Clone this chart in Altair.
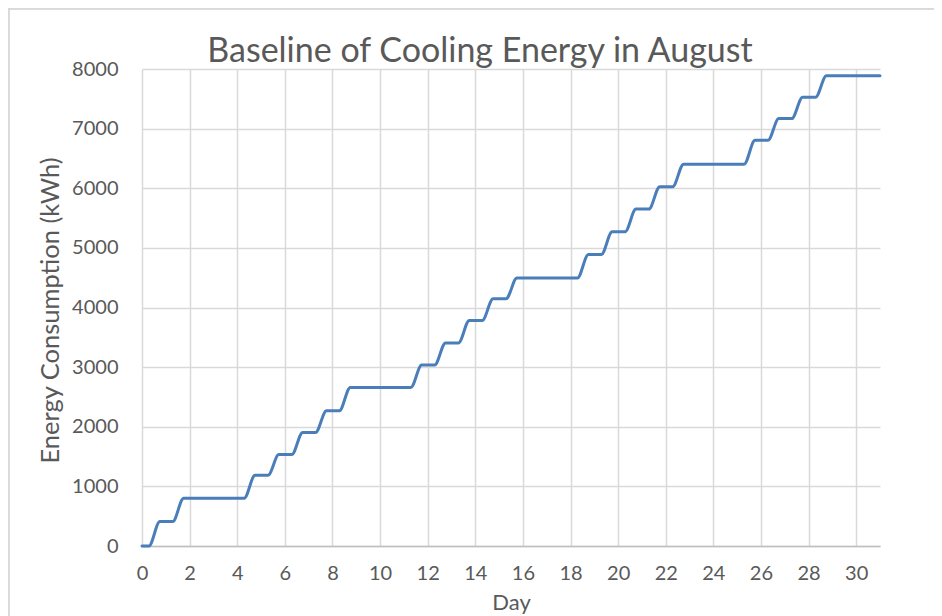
import altair as alt
import pandas as pd

# Working days in August (day index, 0 = Aug 1) on which cooling runs
workdays = [0, 1, 4, 5, 6, 7, 8, 11, 12, 13, 14, 15, 18, 19, 20, 21, 22, 25, 26, 27, 28]
# Cumulative energy (kWh) at the end of each working day
cumulative_kwh = [410, 802, 1185, 1534, 1905, 2269, 2660, 3035, 3405, 3783, 4146,
                  4495, 4887, 5270, 5650, 6027, 6404, 6803, 7168, 7527, 7888]
# Cooling operating hours each working day
start_hour = 7
end_hour = 18
month_end = 31
x_ticks = list(range(0, 31, 2))
y_ticks = list(range(0, 8001, 1000))

rows = [{"day": 0.0, "kwh": 0}]
prev = 0
for d, level in zip(workdays, cumulative_kwh):
    rows.append({"day": d + start_hour / 24, "kwh": prev})
    rows.append({"day": d + end_hour / 24, "kwh": level})
    prev = level
rows.append({"day": float(month_end), "kwh": prev})
df = pd.DataFrame(rows)

FONT = "Lato"
GRAY = "#595959"
W, H = 738, 477

line = alt.Chart(df).mark_line(
    color="#4A7EBB", strokeWidth=3, interpolate="monotone", strokeCap="round"
).encode(
    x=alt.X("day:Q", scale=alt.Scale(domain=[0, month_end], nice=False),
            axis=alt.Axis(values=x_ticks, title="Day", grid=True, ticks=False,
                          domain=True, domainColor="#BFBFBF", domainWidth=1.5,
                          labelPadding=17, labelFlush=False, format="d",
                          titleFontSize=22,
                          titleY=63, titleBaseline="alphabetic", titlePadding=0)),
    y=alt.Y("kwh:Q", scale=alt.Scale(domain=[0, 8000], nice=False),
            axis=alt.Axis(values=y_ticks, title="Energy Consumption (kWh)", format="d",
                          grid=True, ticks=False, domain=False, labelPadding=24,
                          labelFlush=False, titleFontSize=25.5,
                          titleX=-92, titleY=241, titleBaseline="middle")),
)

border = alt.Chart(df).mark_rect(fill=None, stroke="#D9D9D9", strokeWidth=1.5).encode(
    x=alt.value(-133.5), x2=alt.value(W + 100), y=alt.value(-60.5), y2=alt.value(H + 100)
)

chart = alt.layer(border, line).properties(
    width=W, height=H,
    title=alt.TitleParams("Baseline of Cooling Energy in August", font=FONT, fontSize=34,
                          fontWeight="normal", color=GRAY, anchor="middle", dx=-31, dy=53,
                          offset=-8),
    autosize=alt.AutoSizeParams(type="none"),
    padding={"left": 134, "top": 61, "right": 54, "bottom": 70},
).configure_view(stroke=None).configure_axis(
    labelFont=FONT, labelFontSize=20, labelColor=GRAY,
    titleFont=FONT, titleColor=GRAY, titleFontWeight="normal",
    gridColor="#D9D9D9", gridWidth=1.5,
)

chart.save("out.html", embed_options={"renderer": "svg", "actions": False})
